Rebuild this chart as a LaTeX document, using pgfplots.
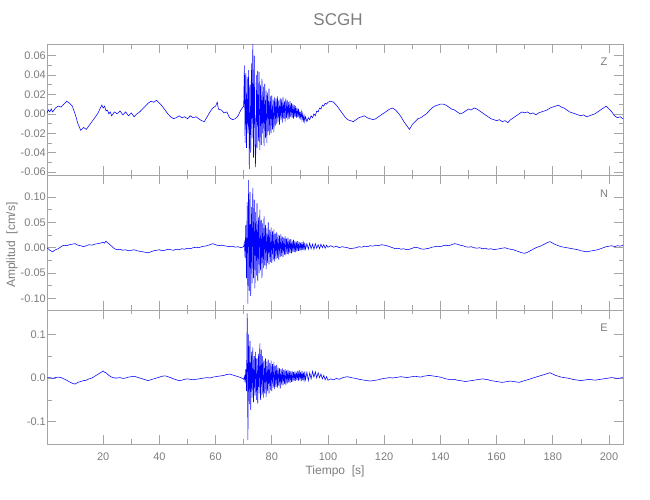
\documentclass[border=0pt]{standalone}
\usepackage{fontspec}
\setmainfont{Liberation Sans}
\usepackage{pgfplots}
\pgfplotsset{compat=1.18}
\definecolor{axgray}{RGB}{165,165,165}
\definecolor{txtgray}{RGB}{125,125,125}
\definecolor{trace}{RGB}{0,0,255}
\pgfplotsset{seis/.style={
  scale only axis, width=576pt, xmin=0, xmax=205,
  axis line style={axgray, line width=0.7pt},
  every tick/.style={axgray, line width=0.7pt},
  major tick length=9pt, minor tick length=4.5pt,
  tick align=inside, xtick={20,40,...,200}, minor x tick num=1, minor y tick num=1,
  scaled y ticks=false,
  ticklabel style={font=\fontsize{11}{13}\selectfont, text=txtgray},
  /pgf/number format/assume math mode=true,
  yticklabel style={inner sep=1pt},
  xticklabel style={yshift=-5pt},
  clip=true,
}}
\begin{document}
\begin{tikzpicture}
\useasboundingbox (0,0) rectangle (650pt,500pt);
% ---------------- Z ----------------
\begin{axis}[seis, at={(47pt,325pt)}, anchor=south west, height=131pt,
  ymin=-0.063, ymax=0.072, ytick={-0.06,-0.04,...,0.061}, xticklabels={},
  yticklabel style={/pgf/number format/.cd, fixed, fixed zerofill, precision=2}]
\addplot[trace, line width=0.55pt, no marks] table[row sep=\\] {
t v\\
0 0.001\\ 0.5 0.004\\ 1 0.002\\ 1.5 0.005\\ 2 0.002\\ 3 0.006\\ 4 0.008\\ 5 0.007\\ 6 0.010\\ 7 0.013\\ 8 0.011\\ 9 0.008\\
10 0.000\\ 11 -0.010\\ 12 -0.017\\ 13 -0.014\\ 14 -0.016\\ 15 -0.012\\ 16 -0.008\\ 17 -0.004\\ 18 0.000\\ 19 0.006\\
19.5 0.009\\ 20 0.006\\ 20.5 0.008\\ 21 0.003\\ 21.5 0.004\\ 22 0.000\\ 22.5 0.002\\ 23 -0.002\\ 24 0.002\\ 25 0.000\\ 26 0.003\\ 27 -0.001\\ 28 0.002\\ 29 -0.002\\
30 0.001\\ 31 -0.003\\ 32 0.000\\ 33 0.002\\ 34 0.005\\ 35 0.008\\ 36 0.011\\ 37 0.013\\ 38 0.012\\ 39 0.014\\
40 0.011\\ 41 0.008\\ 42 0.004\\ 43 0.000\\ 44 -0.003\\ 45 -0.005\\ 46 -0.004\\ 47 -0.002\\ 48 -0.004\\ 49 -0.003\\
50 -0.005\\ 51 -0.002\\ 52 -0.004\\ 53 -0.003\\ 54 -0.005\\ 55 -0.007\\ 56 -0.008\\ 57 -0.003\\ 58 0.002\\ 59 0.006\\
60 0.008\\ 60.6 0.012\\ 61 0.005\\ 62 0.004\\ 63 0.001\\ 64 0.002\\ 65 -0.004\\ 66 -0.006\\ 67 -0.005\\ 68 -0.002\\ 69 0.004\\
70.00 0.008\\ 70.25 0.050\\ 70.50 -0.030\\ 70.75 0.042\\ 71.00 -0.035\\ 71.25 0.038\\ 71.50 -0.020\\ 71.75 0.045\\
72.00 -0.057\\ 72.25 0.030\\ 72.50 -0.040\\ 72.75 0.052\\ 73.00 -0.025\\ 73.25 0.072\\ 73.50 -0.045\\ 73.75 0.060\\
74.00 -0.030\\ 74.25 -0.055\\ 74.50 0.040\\ 74.75 -0.035\\ 75.00 0.044\\ 75.25 -0.028\\ 75.50 0.043\\ 75.75 -0.037\\
76.00 0.030\\ 76.25 -0.032\\ 76.50 0.036\\ 76.75 -0.020\\ 77.00 0.028\\ 77.25 -0.033\\ 77.50 0.031\\ 77.75 -0.025\\
78.00 0.024\\ 78.25 -0.030\\ 78.50 0.022\\ 78.75 -0.018\\ 79.00 0.026\\ 79.25 -0.022\\ 79.50 0.018\\ 79.75 -0.020\\
80.00 0.019\\ 80.25 -0.016\\ 80.50 0.015\\ 80.75 -0.019\\ 81.00 0.017\\ 81.25 -0.012\\ 81.50 0.016\\ 81.75 -0.010\\
82.00 0.018\\ 82.25 -0.008\\ 82.50 0.014\\ 82.75 -0.011\\ 83.00 0.016\\ 83.25 -0.006\\ 83.50 0.015\\ 83.75 -0.009\\
84.00 0.017\\ 84.25 -0.005\\ 84.50 0.013\\ 84.75 -0.008\\ 85.00 0.016\\ 85.25 -0.004\\ 85.50 0.014\\ 85.75 -0.006\\
86.00 0.012\\ 86.25 -0.005\\ 86.50 0.013\\ 86.75 -0.003\\ 87.00 0.011\\ 87.25 -0.004\\ 87.50 0.010\\ 87.75 -0.005\\
88.00 0.009\\ 88.25 -0.003\\ 88.50 0.008\\ 88.75 -0.004\\ 89.00 0.006\\ 89.25 -0.003\\ 89.50 0.005\\ 89.75 -0.005\\
90.00 0.003\\ 90.25 -0.004\\ 90.50 0.002\\ 90.75 -0.006\\ 91.00 0.000\\ 91.25 -0.007\\ 91.50 -0.002\\ 91.75 -0.008\\
92.00 -0.003\\ 92.5 -0.008\\ 93 -0.004\\ 93.5 -0.006\\ 94 -0.002\\ 94.5 -0.004\\ 95 0.000\\ 95.5 -0.002\\
96 0.003\\ 96.5 0.002\\ 97 0.006\\ 97.5 0.005\\ 98 0.009\\ 98.5 0.008\\ 99 0.011\\ 99.5 0.010\\ 100 0.012\\
101 0.013\\ 102 0.012\\ 103 0.009\\ 104 0.005\\ 105 0.001\\ 106 -0.003\\ 107 -0.006\\ 108 -0.007\\ 109 -0.008\\
110 -0.006\\ 111 -0.004\\ 112 -0.003\\ 113 -0.002\\ 114 -0.004\\ 115 -0.005\\ 116 -0.006\\ 117 -0.005\\ 118 -0.003\\ 119 -0.001\\
120 0.001\\ 121 0.003\\ 122 0.005\\ 123 0.006\\ 124 0.004\\ 125 0.001\\ 126 -0.003\\ 127 -0.008\\ 128 -0.012\\ 129 -0.016\\
130 -0.011\\ 131 -0.008\\ 132 -0.005\\ 133 -0.004\\ 134 -0.002\\ 135 0.000\\ 136 0.003\\ 137 0.006\\ 138 0.008\\ 139 0.009\\
140 0.010\\ 141 0.010\\ 142 0.009\\ 143 0.007\\ 144 0.005\\ 145 0.004\\ 146 0.002\\ 147 0.000\\ 148 0.001\\ 149 0.003\\
150 0.005\\ 151 0.004\\ 152 0.006\\ 153 0.005\\ 154 0.003\\ 155 0.001\\ 156 -0.001\\ 157 -0.003\\ 158 -0.005\\ 159 -0.006\\
160 -0.007\\ 161 -0.006\\ 162 -0.008\\ 163 -0.007\\ 164 -0.009\\ 165 -0.006\\ 166 -0.004\\ 167 -0.002\\ 168 0.000\\ 169 0.002\\
170 0.001\\ 171 0.002\\ 172 0.000\\ 173 0.001\\ 174 -0.001\\ 175 0.001\\ 176 0.002\\ 177 0.003\\ 178 0.004\\ 179 0.006\\
180 0.007\\ 181 0.008\\ 182 0.009\\ 183 0.007\\ 184 0.006\\ 185 0.004\\ 186 0.002\\ 187 0.001\\ 188 0.000\\ 189 -0.001\\
190 -0.002\\ 191 -0.001\\ 192 -0.003\\ 193 -0.002\\ 194 -0.001\\ 195 0.000\\ 196 0.002\\ 197 0.004\\ 198 0.006\\ 199 0.008\\
200 0.005\\ 201 0.002\\ 202 -0.002\\ 203 -0.004\\ 204 -0.003\\ 205 -0.005\\
};
\node[text=txtgray, font=\fontsize{11}{13}\selectfont] at (rel axis cs:0.967,0.863) {Z};
\end{axis}
% ---------------- N ----------------
\begin{axis}[seis, at={(47pt,190pt)}, anchor=south west, height=135pt,
  ymin=-0.1227, ymax=0.1433, ytick={-0.10,-0.05,...,0.101}, xticklabels={},
  yticklabel style={/pgf/number format/.cd, fixed, fixed zerofill, precision=2}]
\addplot[trace, line width=0.55pt, no marks] table[row sep=\\] {
t v\\
0 0.000\\ 1 -0.005\\ 2 -0.008\\ 3 -0.004\\ 4 -0.002\\ 5 0.002\\ 6 0.005\\ 7 0.004\\ 8 0.006\\ 9 0.007\\
10 0.008\\ 11 0.005\\ 12 0.004\\ 13 0.002\\ 14 0.004\\ 15 0.006\\ 16 0.005\\ 17 0.007\\ 18 0.008\\ 19 0.009\\
20 0.011\\ 20.5 0.009\\ 21 0.013\\ 21.5 0.010\\ 22 0.008\\ 23 0.003\\ 24 -0.002\\ 25 -0.004\\ 26 -0.003\\ 27 -0.005\\ 28 -0.004\\ 29 -0.006\\
30 -0.005\\ 31 -0.004\\ 32 -0.006\\ 33 -0.007\\ 34 -0.008\\ 35 -0.009\\ 36 -0.010\\ 37 -0.008\\ 38 -0.006\\ 39 -0.005\\
40 -0.004\\ 41 -0.006\\ 42 -0.005\\ 43 -0.003\\ 44 -0.004\\ 45 -0.005\\ 46 -0.003\\ 47 -0.004\\ 48 -0.002\\ 49 -0.003\\
50 -0.001\\ 51 -0.002\\ 52 0.000\\ 53 0.001\\ 54 0.000\\ 55 0.002\\ 56 0.003\\ 57 0.004\\ 58 0.006\\ 59 0.008\\
60 0.006\\ 61 0.004\\ 62 0.005\\ 63 0.004\\ 64 0.003\\ 65 0.002\\ 66 0.003\\ 67 0.001\\ 68 0.002\\ 69 0.000\\ 70 0.002\\
70.25 0.010\\ 70.50 -0.020\\ 70.75 0.045\\ 71.00 -0.060\\ 71.25 0.090\\ 71.50 -0.110\\ 71.75 0.133\\
72.00 -0.085\\ 72.25 0.110\\ 72.50 -0.095\\ 72.75 0.080\\ 73.00 -0.070\\ 73.25 0.118\\ 73.50 -0.060\\ 73.75 0.095\\
74.00 -0.080\\ 74.25 0.070\\ 74.50 -0.055\\ 74.75 0.088\\ 75.00 -0.065\\ 75.25 0.060\\ 75.50 -0.050\\ 75.75 0.075\\
76.00 -0.045\\ 76.25 0.055\\ 76.50 -0.060\\ 76.75 0.048\\ 77.00 -0.040\\ 77.25 0.062\\ 77.50 -0.035\\ 77.75 0.045\\
78.00 -0.042\\ 78.25 0.038\\ 78.50 -0.030\\ 78.75 0.050\\ 79.00 -0.033\\ 79.25 0.035\\ 79.50 -0.028\\ 79.75 0.040\\
80.00 -0.030\\ 80.25 0.032\\ 80.50 -0.025\\ 80.75 0.036\\ 81.00 -0.027\\ 81.25 0.028\\ 81.50 -0.022\\ 81.75 0.030\\
82.00 -0.020\\ 82.25 0.026\\ 82.50 -0.024\\ 82.75 0.024\\ 83.00 -0.018\\ 83.25 0.027\\ 83.50 -0.016\\ 83.75 0.022\\
84.00 -0.018\\ 84.25 0.020\\ 84.50 -0.014\\ 84.75 0.023\\ 85.00 -0.015\\ 85.25 0.018\\ 85.50 -0.012\\ 85.75 0.020\\
86.00 -0.013\\ 86.25 0.016\\ 86.50 -0.010\\ 86.75 0.017\\ 87.00 -0.011\\ 87.25 0.014\\ 87.50 -0.009\\ 87.75 0.016\\
88.00 -0.008\\ 88.25 0.013\\ 88.50 -0.009\\ 88.75 0.012\\ 89.00 -0.007\\ 89.25 0.013\\ 89.50 -0.006\\ 89.75 0.011\\
90.00 -0.006\\ 90.25 0.010\\ 90.50 -0.005\\ 90.75 0.011\\ 91.00 -0.004\\ 91.25 0.009\\ 91.50 -0.005\\ 91.75 0.010\\
92.00 -0.003\\ 92.5 0.008\\ 93 -0.003\\ 93.5 0.009\\ 94 -0.002\\ 94.5 0.007\\ 95 -0.003\\ 95.5 0.008\\
96 -0.001\\ 96.5 0.006\\ 97 -0.002\\ 97.5 0.007\\ 98 0.000\\ 98.5 0.006\\ 99 -0.001\\ 99.5 0.005\\ 100 0.001\\
101 0.004\\ 102 0.001\\ 103 0.003\\ 104 0.000\\ 105 0.002\\ 106 0.001\\ 107 0.000\\ 108 -0.002\\ 109 -0.001\\
110 0.000\\ 111 0.002\\ 112 0.001\\ 113 0.003\\ 114 0.002\\ 115 0.004\\ 116 0.003\\ 117 0.005\\ 118 0.004\\ 119 0.006\\
120 0.005\\ 121 0.004\\ 122 0.002\\ 123 0.000\\ 124 -0.002\\ 125 -0.001\\ 126 -0.003\\ 127 -0.002\\ 128 -0.004\\ 129 -0.003\\
130 -0.001\\ 131 0.001\\ 132 0.000\\ 133 -0.002\\ 134 -0.003\\ 135 -0.002\\ 136 -0.001\\ 137 0.001\\ 138 0.002\\ 139 0.003\\
140 0.002\\ 141 0.004\\ 142 0.005\\ 143 0.004\\ 144 0.006\\ 145 0.008\\ 146 0.007\\ 147 0.005\\ 148 0.004\\ 149 0.002\\
150 0.001\\ 151 0.002\\ 152 0.000\\ 153 -0.001\\ 154 0.000\\ 155 -0.002\\ 156 -0.001\\ 157 -0.003\\ 158 -0.002\\ 159 -0.004\\
160 -0.003\\ 161 -0.002\\ 162 -0.001\\ 163 0.000\\ 164 -0.002\\ 165 -0.003\\ 166 -0.004\\ 167 -0.006\\ 168 -0.008\\ 169 -0.010\\
170 -0.011\\ 171 -0.009\\ 172 -0.006\\ 173 -0.003\\ 174 0.000\\ 175 0.002\\ 176 0.004\\ 177 0.007\\ 178 0.010\\ 179 0.012\\
180 0.009\\ 181 0.006\\ 182 0.004\\ 183 0.002\\ 184 0.001\\ 185 0.000\\ 186 -0.001\\ 187 -0.002\\ 188 -0.003\\ 189 -0.004\\
190 -0.006\\ 191 -0.007\\ 192 -0.008\\ 193 -0.007\\ 194 -0.006\\ 195 -0.005\\ 196 -0.004\\ 197 -0.002\\ 198 0.000\\ 199 0.002\\
200 0.003\\ 201 0.004\\ 202 0.002\\ 203 0.004\\ 204 0.003\\ 205 0.005\\
};
\node[text=txtgray, font=\fontsize{11}{13}\selectfont] at (rel axis cs:0.967,0.859) {N};
\end{axis}
% ---------------- E ----------------
\begin{axis}[seis, at={(47pt,56pt)}, anchor=south west, height=134pt,
  ymin=-0.151, ymax=0.1556, ytick={-0.1,0,0.1},
  yticklabel style={/pgf/number format/.cd, fixed, fixed zerofill, precision=1}]
\addplot[trace, line width=0.55pt, no marks] table[row sep=\\] {
t v\\
0 0.000\\ 1 0.001\\ 2 -0.001\\ 3 0.001\\ 4 0.002\\ 5 0.001\\ 6 -0.002\\ 7 -0.005\\ 8 -0.009\\ 9 -0.012\\
10 -0.014\\ 11 -0.010\\ 12 -0.008\\ 13 -0.006\\ 14 -0.005\\ 15 -0.002\\ 16 0.000\\ 17 0.004\\ 18 0.008\\ 19 0.012\\
20 0.016\\ 20.5 0.013\\ 21 0.012\\ 22 0.006\\ 23 0.002\\ 24 0.000\\ 25 0.000\\ 26 0.001\\ 27 -0.001\\ 28 0.000\\ 29 0.002\\
30 0.003\\ 31 0.004\\ 32 0.002\\ 33 0.000\\ 34 -0.002\\ 35 -0.004\\ 36 -0.006\\ 37 -0.004\\ 38 -0.002\\ 39 0.000\\
40 0.002\\ 41 0.004\\ 42 0.005\\ 43 0.003\\ 44 0.001\\ 45 -0.002\\ 46 -0.004\\ 47 -0.006\\ 48 -0.005\\ 49 -0.003\\
50 -0.002\\ 51 -0.003\\ 52 -0.004\\ 53 -0.003\\ 54 -0.002\\ 55 -0.001\\ 56 0.000\\ 57 0.001\\ 58 0.000\\ 59 0.002\\
60 0.003\\ 61 0.004\\ 62 0.005\\ 63 0.006\\ 64 0.008\\ 65 0.009\\ 66 0.007\\ 67 0.005\\ 68 0.003\\ 69 0.001\\ 70 -0.003\\
70.25 0.004\\ 70.50 -0.010\\ 70.75 0.020\\ 71.00 -0.030\\ 71.25 0.148\\ 71.50 -0.142\\ 71.75 0.100\\
72.00 -0.060\\ 72.25 0.085\\ 72.50 -0.073\\ 72.75 0.060\\ 73.00 -0.045\\ 73.25 0.070\\ 73.50 -0.055\\ 73.75 0.050\\
74.00 -0.040\\ 74.25 0.060\\ 74.50 -0.050\\ 74.75 0.045\\ 75.00 -0.058\\ 75.25 0.055\\ 75.50 -0.035\\ 75.75 0.079\\
76.00 -0.050\\ 76.25 0.065\\ 76.50 -0.040\\ 76.75 0.050\\ 77.00 -0.045\\ 77.25 0.040\\ 77.50 -0.035\\ 77.75 0.045\\
78.00 -0.043\\ 78.25 0.038\\ 78.50 -0.030\\ 78.75 0.042\\ 79.00 -0.035\\ 79.25 0.034\\ 79.50 -0.028\\ 79.75 0.040\\
80.00 -0.030\\ 80.25 0.032\\ 80.50 -0.022\\ 80.75 0.036\\ 81.00 -0.025\\ 81.25 0.028\\ 81.50 -0.020\\ 81.75 0.030\\
82.00 -0.022\\ 82.25 0.024\\ 82.50 -0.018\\ 82.75 0.022\\ 83.00 -0.024\\ 83.25 0.020\\ 83.50 -0.015\\ 83.75 0.022\\
84.00 -0.017\\ 84.25 0.018\\ 84.50 -0.014\\ 84.75 0.020\\ 85.00 -0.016\\ 85.25 0.017\\ 85.50 -0.012\\ 85.75 0.019\\
86.00 -0.010\\ 86.25 0.016\\ 86.50 -0.011\\ 86.75 0.015\\ 87.00 -0.009\\ 87.25 0.016\\ 87.50 -0.008\\ 87.75 0.014\\
88.00 -0.006\\ 88.25 0.015\\ 88.50 -0.007\\ 88.75 0.013\\ 89.00 -0.005\\ 89.25 0.016\\ 89.50 -0.006\\ 89.75 0.018\\
90.00 -0.004\\ 90.25 0.014\\ 90.50 -0.007\\ 90.75 0.016\\ 91.00 -0.005\\ 91.25 0.013\\ 91.50 -0.008\\ 91.75 0.015\\
92.00 -0.004\\ 92.5 0.013\\ 93 -0.006\\ 93.5 0.012\\ 94 -0.002\\ 94.5 0.015\\ 95 0.002\\ 95.5 0.014\\
96 0.000\\ 96.5 0.012\\ 97 0.001\\ 97.5 0.009\\ 98 -0.002\\ 98.5 0.006\\ 99 -0.004\\ 99.5 0.003\\ 100 -0.005\\
101 -0.002\\ 102 -0.004\\ 103 -0.001\\ 104 -0.003\\ 105 0.000\\ 106 0.002\\ 107 0.003\\ 108 0.001\\ 109 0.000\\
110 -0.001\\ 111 -0.003\\ 112 -0.004\\ 113 -0.005\\ 114 -0.006\\ 115 -0.007\\ 116 -0.006\\ 117 -0.005\\ 118 -0.004\\ 119 -0.002\\
120 -0.001\\ 121 0.000\\ 122 0.001\\ 123 0.000\\ 124 0.001\\ 125 0.002\\ 126 0.003\\ 127 0.002\\ 128 0.001\\ 129 0.002\\
130 0.003\\ 131 0.004\\ 132 0.003\\ 133 0.002\\ 134 0.004\\ 135 0.005\\ 136 0.006\\ 137 0.005\\ 138 0.004\\ 139 0.003\\
140 0.002\\ 141 0.000\\ 142 -0.002\\ 143 -0.003\\ 144 -0.004\\ 145 -0.003\\ 146 -0.005\\ 147 -0.006\\ 148 -0.007\\ 149 -0.008\\
150 -0.007\\ 151 -0.006\\ 152 -0.005\\ 153 -0.004\\ 154 -0.003\\ 155 -0.002\\ 156 -0.003\\ 157 -0.004\\ 158 -0.006\\ 159 -0.007\\
160 -0.008\\ 161 -0.009\\ 162 -0.010\\ 163 -0.009\\ 164 -0.008\\ 165 -0.007\\ 166 -0.008\\ 167 -0.009\\ 168 -0.010\\ 169 -0.008\\
170 -0.006\\ 171 -0.004\\ 172 -0.002\\ 173 0.000\\ 174 0.002\\ 175 0.004\\ 176 0.006\\ 177 0.008\\ 178 0.010\\ 179 0.012\\
180 0.009\\ 181 0.006\\ 182 0.004\\ 183 0.002\\ 184 0.001\\ 185 0.000\\ 186 -0.001\\ 187 -0.003\\ 188 -0.004\\ 189 -0.005\\
190 -0.006\\ 191 -0.005\\ 192 -0.004\\ 193 -0.003\\ 194 -0.004\\ 195 -0.005\\ 196 -0.004\\ 197 -0.003\\ 198 -0.002\\ 199 -0.001\\
200 0.000\\ 201 0.001\\ 202 0.000\\ 203 -0.001\\ 204 0.000\\ 205 0.001\\
};
\node[text=txtgray, font=\fontsize{11}{13}\selectfont] at (rel axis cs:0.967,0.866) {E};
\end{axis}
\node[text=txtgray, font=\fontsize{17}{20}\selectfont] at (338pt,480pt) {SCGH};
\node[text=txtgray, font=\fontsize{12}{14}\selectfont, rotate=90] at (12pt,255pt) {Amplitud\ \ [cm/s]};
\node[text=txtgray, font=\fontsize{12}{14}\selectfont] at (335pt,29pt) {Tiempo\ \ [s]};
\end{tikzpicture}
\end{document}
